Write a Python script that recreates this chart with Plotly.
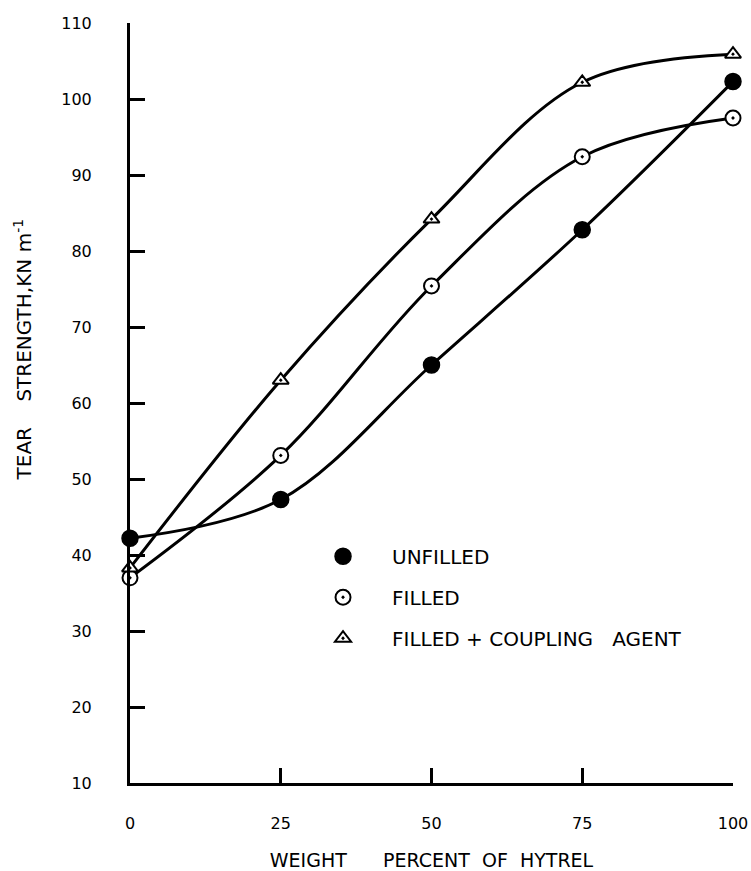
import plotly.graph_objects as go

# Weight percent of Hytrel in the blend
hytrel_pct = [0, 25, 50, 75, 100]

# Tear strength (kN/m) for each compound
unfilled = [42.2, 47.3, 65.0, 82.8, 102.3]
filled = [37.0, 53.1, 75.4, 92.4, 97.5]
filled_coupling = [38.3, 63.0, 84.2, 102.2, 105.9]

x_ticks = [0, 25, 50, 75, 100]
y_ticks = [10, 20, 30, 40, 50, 60, 70, 80, 90, 100, 110]
y_range = [10, 110]

FONT = "DejaVu Sans"
INK = "black"

series = [
    ("UNFILLED", unfilled, dict(symbol="circle", size=16, color=INK,
                                line=dict(color=INK, width=1.5))),
    ("FILLED", filled, dict(symbol="circle-dot", size=15, color="white",
                            line=dict(color=INK, width=2))),
    ("FILLED + COUPLING   AGENT", filled_coupling,
     dict(symbol="triangle-up-dot", size=14, color="white",
          line=dict(color=INK, width=2))),
]

fig = go.Figure()

# smooth curves on the base axes
for name, vals, _ in series:
    fig.add_trace(go.Scatter(
        x=hytrel_pct, y=vals, mode="lines",
        line=dict(color=INK, width=3, shape="spline", smoothing=1.0),
        showlegend=False, hoverinfo="skip",
    ))

# data markers on the twin axis, so they sit above the curves
for name, vals, marker in series:
    fig.add_trace(go.Scatter(
        x=hytrel_pct, y=vals, mode="markers", name=name, yaxis="y2",
        marker=marker, legendgroup=name, cliponaxis=False,
    ))

tick_font = dict(family=FONT, size=16, color=INK)

fig.update_layout(
    xaxis=dict(
        range=[0, 100], tickvals=x_ticks, ticktext=[str(v) for v in x_ticks],
        showline=True, linecolor=INK, linewidth=2.5,
        ticks="inside", ticklen=15, tickwidth=2.5, tickcolor=INK,
        showgrid=False, zeroline=False, automargin=False,
        tickfont=tick_font, ticklabelstandoff=24,
        title=dict(text="WEIGHT      PERCENT  OF  HYTREL",
                   font=dict(family=FONT, size=19, color=INK), standoff=22),
    ),
    # left axis carries the inward ticks
    yaxis=dict(
        range=y_range, tickvals=y_ticks,
        showline=True, linecolor=INK, linewidth=2.5,
        ticks="inside", ticklen=15, tickwidth=2.5, tickcolor=INK,
        showgrid=False, zeroline=False, showticklabels=False,
        automargin=False,
    ),
    # twin axis carries the numbers, set back from the axis line
    yaxis2=dict(
        range=y_range, tickvals=y_ticks, ticktext=[str(v) for v in y_ticks],
        overlaying="y", side="left", showline=False,
        ticks="outside", ticklen=34, tickcolor="rgba(0,0,0,0)",
        showgrid=False, zeroline=False, automargin=False,
        tickfont=tick_font,
    ),
)

# vertical axis caption
fig.add_annotation(
    text="TEAR    STRENGTH,KN m<sup>-1</sup>",
    xref="paper", yref="paper", x=-0.178, y=0.57,
    xanchor="center", yanchor="middle", textangle=-90, showarrow=False,
    font=dict(family=FONT, size=20, color=INK),
)

fig.update_layout(
    width=751, height=871,
    margin=dict(l=130, r=18, t=23, b=88),
    paper_bgcolor="white", plot_bgcolor="white",
    showlegend=True,
    legend=dict(
        x=0.272, y=0.324, xanchor="left", yanchor="top",
        bgcolor="rgba(0,0,0,0)", borderwidth=0,
        font=dict(family=FONT, size=20, color=INK),
        traceorder="grouped", tracegroupgap=12,
        itemsizing="trace", itemwidth=88,
    ),
)

fig.write_html("out.html")
